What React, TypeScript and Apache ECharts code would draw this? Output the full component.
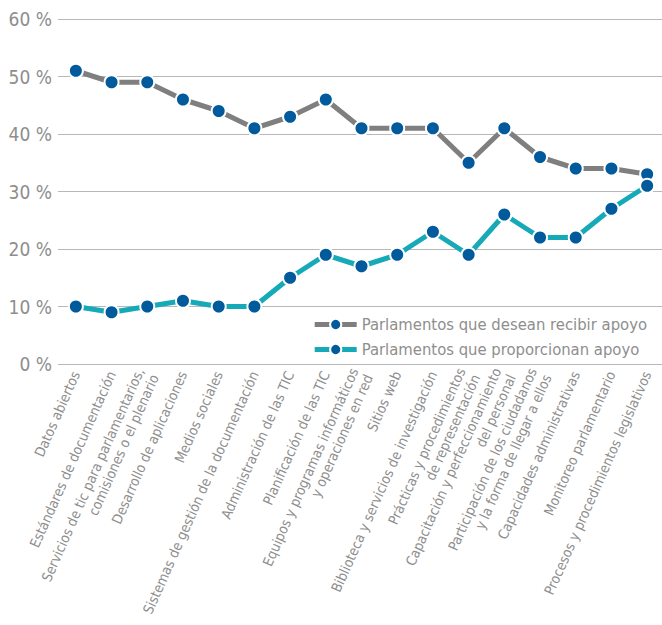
import React, { useEffect, useRef } from "react";
import * as echarts from "echarts";

const categories = [
  "Datos abiertos",
  "Estándares de documentación",
  "Servicios de tic para parlamentarios,\ncomisiones o el plenario",
  "Desarrollo de aplicaciones",
  "Medios sociales",
  "Sistemas de gestión de la documentación",
  "Administración de las TIC",
  "Planificación de las TIC",
  "Equipos y programas informáticos\ny operaciones en red",
  "Sitios web",
  "Biblioteca y servicios de investigación",
  "Prácticas y procedimientos\nde representación",
  "Capacitación y perfeccionamiento\ndel personal",
  "Participación de los ciudadanos\ny la forma de llegar a ellos",
  "Capacidades administrativas",
  "Monitoreo parlamentario",
  "Procesos y procedimientos legislativos",
];

const deseanRecibir = [51, 49, 49, 46, 44, 41, 43, 46, 41, 41, 41, 35, 41, 36, 34, 34, 33];
const proporcionan = [10, 9, 10, 11, 10, 10, 15, 19, 17, 19, 23, 19, 26, 22, 22, 27, 31];

const seriesNames = ["Parlamentos que desean recibir apoyo", "Parlamentos que proporcionan apoyo"];

const FONT = "'Liberation Sans Narrow', 'DejaVu Sans Condensed', sans-serif";
const TEXT = "#8e8e8e";

export default function App() {
  const ref = useRef<HTMLDivElement>(null);
  useEffect(() => {
    if (!ref.current) return;
    const chart = echarts.init(ref.current, null, { renderer: "svg" });
    const mk = (name: string, data: number[], color: string) => ({
      name,
      type: "line",
      data,
      symbol: "circle",
      symbolSize: 14,
      lineStyle: { color, width: 5 },
      itemStyle: { color: "#005a9c", borderColor: "#ffffff", borderWidth: 2 },
      emphasis: { disabled: true },
    });
    chart.setOption({
      animation: false,
      textStyle: { fontFamily: FONT },
      grid: { left: 58, right: -3, top: 19, bottom: 261, outerBoundsMode: "none", containLabel: false },
      legend: {
        orient: "vertical",
        right: 10,
        top: 311,
        itemWidth: 42,
        itemHeight: 14,
        itemGap: 8,
        textStyle: { color: TEXT, fontSize: 16.5, fontFamily: FONT },
        data: seriesNames.map((n, i) => ({
          name: n,
          itemStyle: { color: "#005a9c", borderColor: "#ffffff", borderWidth: 2 },
          lineStyle: { color: i === 0 ? "#7f7f7f" : "#16a9b8", width: 5 },
        })),
      },
      xAxis: {
        type: "category",
        data: categories,
        boundaryGap: true,
        axisLine: { show: false },
        axisTick: { show: false },
        axisLabel: {
          interval: 0,
          rotate: 66,
          color: TEXT,
          fontSize: 14,
          fontFamily: FONT,
          lineHeight: 16,
          margin: 8,
          align: "right",
        },
      },
      yAxis: {
        type: "value",
        min: 0,
        max: 60,
        interval: 10,
        axisLine: { show: false },
        axisTick: { show: false },
        axisLabel: {
          formatter: "{value} %",
          color: TEXT,
          fontSize: 19,
          fontFamily: FONT,
          margin: 6,
        },
        splitLine: { lineStyle: { color: "#b8b8b8", width: 1 } },
      },
      series: [
        mk(seriesNames[0], deseanRecibir, "#7f7f7f"),
        mk(seriesNames[1], proporcionan, "#16a9b8"),
      ],
    });
    return () => chart.dispose();
  }, []);
  return (
    <div
      ref={ref}
      style={{ position: "fixed", left: 0, top: 0, width: 662, height: 625, background: "#fff" }}
    />
  );
}
